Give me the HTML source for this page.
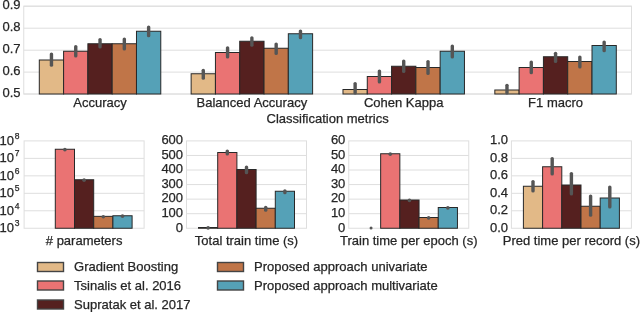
<!DOCTYPE html>
<html><head><meta charset="utf-8"><style>
html,body{margin:0;padding:0;background:#fff;width:640px;height:312px;overflow:hidden}
svg{display:block;filter:blur(0.35px)}
text{font-family:"Liberation Sans", sans-serif;font-size:13px;fill:#262626;stroke:#262626;stroke-width:0.25px}
</style></head><body>
<svg width="640" height="312" viewBox="0 0 640 312">
<rect width="640" height="312" fill="#fff"/>
<line x1="23.75" y1="6.2" x2="631.5" y2="6.2" stroke="#DEDEDE" stroke-width="1"/>
<text x="20.6" y="9.30" text-anchor="end">0.9</text>
<line x1="23.75" y1="28.2" x2="631.5" y2="28.2" stroke="#DEDEDE" stroke-width="1"/>
<text x="20.6" y="31.30" text-anchor="end">0.8</text>
<line x1="23.75" y1="50.2" x2="631.5" y2="50.2" stroke="#DEDEDE" stroke-width="1"/>
<text x="20.6" y="53.30" text-anchor="end">0.7</text>
<line x1="23.75" y1="72.1" x2="631.5" y2="72.1" stroke="#DEDEDE" stroke-width="1"/>
<text x="20.6" y="75.20" text-anchor="end">0.6</text>
<line x1="23.75" y1="94.0" x2="631.5" y2="94.0" stroke="#DEDEDE" stroke-width="1"/>
<text x="20.6" y="97.10" text-anchor="end">0.5</text>
<rect x="23.75" y="6.2" width="607.75" height="87.8" fill="none" stroke="#DEDEDE" stroke-width="1"/>
<rect x="39.30" y="60" width="24.29" height="34.00" fill="#E2B987" stroke="#282828" stroke-width="1"/>
<rect x="63.59" y="51.25" width="24.29" height="42.75" fill="#EA7373" stroke="#282828" stroke-width="1"/>
<rect x="87.89" y="43.75" width="24.29" height="50.25" fill="#55201F" stroke="#282828" stroke-width="1"/>
<rect x="112.18" y="43.75" width="24.29" height="50.25" fill="#C07548" stroke="#282828" stroke-width="1"/>
<rect x="136.48" y="31.25" width="24.29" height="62.75" fill="#55A1B7" stroke="#282828" stroke-width="1"/>
<line x1="51.45" y1="54.10" x2="51.45" y2="65.15" stroke="#555555" stroke-width="3.4" stroke-linecap="round"/>
<line x1="75.74" y1="46.60" x2="75.74" y2="55.90" stroke="#555555" stroke-width="3.4" stroke-linecap="round"/>
<line x1="100.04" y1="39.60" x2="100.04" y2="46.90" stroke="#555555" stroke-width="3.4" stroke-linecap="round"/>
<line x1="124.33" y1="39.10" x2="124.33" y2="48.90" stroke="#555555" stroke-width="3.4" stroke-linecap="round"/>
<line x1="148.63" y1="27.10" x2="148.63" y2="35.65" stroke="#555555" stroke-width="3.4" stroke-linecap="round"/>
<text x="100.04" y="107" text-anchor="middle">Accuracy</text>
<rect x="191.14" y="73.75" width="24.29" height="20.25" fill="#E2B987" stroke="#282828" stroke-width="1"/>
<rect x="215.44" y="52.5" width="24.29" height="41.50" fill="#EA7373" stroke="#282828" stroke-width="1"/>
<rect x="239.73" y="41.25" width="24.29" height="52.75" fill="#55201F" stroke="#282828" stroke-width="1"/>
<rect x="264.03" y="48.25" width="24.29" height="45.75" fill="#C07548" stroke="#282828" stroke-width="1"/>
<rect x="288.32" y="33.75" width="24.29" height="60.25" fill="#55A1B7" stroke="#282828" stroke-width="1"/>
<line x1="203.29" y1="70.35" x2="203.29" y2="78.15" stroke="#555555" stroke-width="3.4" stroke-linecap="round"/>
<line x1="227.58" y1="47.85" x2="227.58" y2="56.90" stroke="#555555" stroke-width="3.4" stroke-linecap="round"/>
<line x1="251.88" y1="37.85" x2="251.88" y2="45.15" stroke="#555555" stroke-width="3.4" stroke-linecap="round"/>
<line x1="276.17" y1="44.10" x2="276.17" y2="53.40" stroke="#555555" stroke-width="3.4" stroke-linecap="round"/>
<line x1="300.47" y1="31.10" x2="300.47" y2="37.65" stroke="#555555" stroke-width="3.4" stroke-linecap="round"/>
<text x="251.88" y="107" text-anchor="middle">Balanced Accuracy</text>
<rect x="342.98" y="89.5" width="24.29" height="4.50" fill="#E2B987" stroke="#282828" stroke-width="1"/>
<rect x="367.28" y="76.5" width="24.29" height="17.50" fill="#EA7373" stroke="#282828" stroke-width="1"/>
<rect x="391.57" y="66.25" width="24.29" height="27.75" fill="#55201F" stroke="#282828" stroke-width="1"/>
<rect x="415.87" y="67.5" width="24.29" height="26.50" fill="#C07548" stroke="#282828" stroke-width="1"/>
<rect x="440.16" y="51.25" width="24.29" height="42.75" fill="#55A1B7" stroke="#282828" stroke-width="1"/>
<line x1="355.13" y1="83.60" x2="355.13" y2="92.90" stroke="#555555" stroke-width="3.4" stroke-linecap="round"/>
<line x1="379.43" y1="71.10" x2="379.43" y2="81.90" stroke="#555555" stroke-width="3.4" stroke-linecap="round"/>
<line x1="403.72" y1="61.10" x2="403.72" y2="71.40" stroke="#555555" stroke-width="3.4" stroke-linecap="round"/>
<line x1="428.02" y1="61.60" x2="428.02" y2="73.40" stroke="#555555" stroke-width="3.4" stroke-linecap="round"/>
<line x1="452.31" y1="46.10" x2="452.31" y2="56.90" stroke="#555555" stroke-width="3.4" stroke-linecap="round"/>
<text x="403.72" y="107" text-anchor="middle">Cohen Kappa</text>
<rect x="494.83" y="90" width="24.29" height="4.00" fill="#E2B987" stroke="#282828" stroke-width="1"/>
<rect x="519.12" y="67.5" width="24.29" height="26.50" fill="#EA7373" stroke="#282828" stroke-width="1"/>
<rect x="543.42" y="56.75" width="24.29" height="37.25" fill="#55201F" stroke="#282828" stroke-width="1"/>
<rect x="567.71" y="61.5" width="24.29" height="32.50" fill="#C07548" stroke="#282828" stroke-width="1"/>
<rect x="592.01" y="45.5" width="24.29" height="48.50" fill="#55A1B7" stroke="#282828" stroke-width="1"/>
<line x1="506.97" y1="85.35" x2="506.97" y2="92.90" stroke="#555555" stroke-width="3.4" stroke-linecap="round"/>
<line x1="531.27" y1="62.10" x2="531.27" y2="72.65" stroke="#555555" stroke-width="3.4" stroke-linecap="round"/>
<line x1="555.56" y1="53.35" x2="555.56" y2="61.40" stroke="#555555" stroke-width="3.4" stroke-linecap="round"/>
<line x1="579.86" y1="57.10" x2="579.86" y2="66.90" stroke="#555555" stroke-width="3.4" stroke-linecap="round"/>
<line x1="604.15" y1="42.10" x2="604.15" y2="50.65" stroke="#555555" stroke-width="3.4" stroke-linecap="round"/>
<text x="555.56" y="107" text-anchor="middle">F1 macro</text>
<text x="327.62" y="123" text-anchor="middle">Classification metrics</text>
<text x="13.90" y="144.90" text-anchor="end">10</text>
<text x="19.50" y="138.70" text-anchor="end" style="font-size:8.5px">8</text>
<line x1="24.1" y1="158.37" x2="144.1" y2="158.37" stroke="#DEDEDE" stroke-width="1"/>
<text x="13.90" y="162.37" text-anchor="end">10</text>
<text x="19.50" y="156.17" text-anchor="end" style="font-size:8.5px">7</text>
<line x1="24.1" y1="175.84" x2="144.1" y2="175.84" stroke="#DEDEDE" stroke-width="1"/>
<text x="13.90" y="179.84" text-anchor="end">10</text>
<text x="19.50" y="173.64" text-anchor="end" style="font-size:8.5px">6</text>
<line x1="24.1" y1="193.31" x2="144.1" y2="193.31" stroke="#DEDEDE" stroke-width="1"/>
<text x="13.90" y="197.31" text-anchor="end">10</text>
<text x="19.50" y="191.11" text-anchor="end" style="font-size:8.5px">5</text>
<line x1="24.1" y1="210.78" x2="144.1" y2="210.78" stroke="#DEDEDE" stroke-width="1"/>
<text x="13.90" y="214.78" text-anchor="end">10</text>
<text x="19.50" y="208.58" text-anchor="end" style="font-size:8.5px">4</text>
<text x="13.90" y="232.25" text-anchor="end">10</text>
<text x="19.50" y="226.05" text-anchor="end" style="font-size:8.5px">3</text>
<rect x="24.1" y="140.9" width="120" height="87.35" fill="none" stroke="#DEDEDE" stroke-width="1"/>
<rect x="55.30" y="149.25" width="19.20" height="79.00" fill="#EA7373" stroke="#282828" stroke-width="1"/>
<rect x="74.50" y="179.75" width="19.20" height="48.50" fill="#55201F" stroke="#282828" stroke-width="1"/>
<rect x="93.70" y="216.35" width="19.20" height="11.90" fill="#C07548" stroke="#282828" stroke-width="1"/>
<rect x="112.90" y="215.75" width="19.20" height="12.50" fill="#55A1B7" stroke="#282828" stroke-width="1"/>
<circle cx="64.90" cy="149.65" r="1.8" fill="#555555"/>
<circle cx="84.10" cy="180.15" r="1.8" fill="#555555"/>
<circle cx="103.30" cy="216.75" r="1.8" fill="#555555"/>
<circle cx="122.50" cy="216.15" r="1.8" fill="#555555"/>
<text x="84.10" y="244.6" text-anchor="middle"># parameters</text>
<text x="183.10" y="144.20" text-anchor="end">600</text>
<line x1="186.5" y1="155.46" x2="306.5" y2="155.46" stroke="#DEDEDE" stroke-width="1"/>
<text x="183.10" y="158.76" text-anchor="end">500</text>
<line x1="186.5" y1="170.02" x2="306.5" y2="170.02" stroke="#DEDEDE" stroke-width="1"/>
<text x="183.10" y="173.32" text-anchor="end">400</text>
<line x1="186.5" y1="184.57" x2="306.5" y2="184.57" stroke="#DEDEDE" stroke-width="1"/>
<text x="183.10" y="187.88" text-anchor="end">300</text>
<line x1="186.5" y1="199.13" x2="306.5" y2="199.13" stroke="#DEDEDE" stroke-width="1"/>
<text x="183.10" y="202.43" text-anchor="end">200</text>
<line x1="186.5" y1="213.69" x2="306.5" y2="213.69" stroke="#DEDEDE" stroke-width="1"/>
<text x="183.10" y="216.99" text-anchor="end">100</text>
<text x="183.10" y="231.55" text-anchor="end">0</text>
<rect x="186.5" y="140.9" width="120" height="87.35" fill="none" stroke="#DEDEDE" stroke-width="1"/>
<rect x="198.50" y="227.5" width="19.20" height="0.75" fill="#E2B987" stroke="#282828" stroke-width="1"/>
<rect x="217.70" y="152.5" width="19.20" height="75.75" fill="#EA7373" stroke="#282828" stroke-width="1"/>
<rect x="236.90" y="169.5" width="19.20" height="58.75" fill="#55201F" stroke="#282828" stroke-width="1"/>
<rect x="256.10" y="208.25" width="19.20" height="20.00" fill="#C07548" stroke="#282828" stroke-width="1"/>
<rect x="275.30" y="191.25" width="19.20" height="37.00" fill="#55A1B7" stroke="#282828" stroke-width="1"/>
<circle cx="208.10" cy="227.90" r="1.8" fill="#555555"/>
<line x1="227.30" y1="151.10" x2="227.30" y2="153.90" stroke="#555555" stroke-width="3.4" stroke-linecap="round"/>
<line x1="246.50" y1="167.10" x2="246.50" y2="172.65" stroke="#555555" stroke-width="3.4" stroke-linecap="round"/>
<line x1="265.70" y1="207.35" x2="265.70" y2="210.15" stroke="#555555" stroke-width="3.4" stroke-linecap="round"/>
<line x1="284.90" y1="190.85" x2="284.90" y2="192.65" stroke="#555555" stroke-width="3.4" stroke-linecap="round"/>
<text x="246.50" y="244.6" text-anchor="middle">Total train time (s)</text>
<text x="345.35" y="144.20" text-anchor="end">60</text>
<line x1="348.75" y1="155.46" x2="468.75" y2="155.46" stroke="#DEDEDE" stroke-width="1"/>
<text x="345.35" y="158.76" text-anchor="end">50</text>
<line x1="348.75" y1="170.02" x2="468.75" y2="170.02" stroke="#DEDEDE" stroke-width="1"/>
<text x="345.35" y="173.32" text-anchor="end">40</text>
<line x1="348.75" y1="184.57" x2="468.75" y2="184.57" stroke="#DEDEDE" stroke-width="1"/>
<text x="345.35" y="187.88" text-anchor="end">30</text>
<line x1="348.75" y1="199.13" x2="468.75" y2="199.13" stroke="#DEDEDE" stroke-width="1"/>
<text x="345.35" y="202.43" text-anchor="end">20</text>
<line x1="348.75" y1="213.69" x2="468.75" y2="213.69" stroke="#DEDEDE" stroke-width="1"/>
<text x="345.35" y="216.99" text-anchor="end">10</text>
<text x="345.35" y="231.55" text-anchor="end">0</text>
<rect x="348.75" y="140.9" width="120" height="87.35" fill="none" stroke="#DEDEDE" stroke-width="1"/>
<rect x="380.65" y="153.75" width="19.20" height="74.50" fill="#EA7373" stroke="#282828" stroke-width="1"/>
<rect x="399.85" y="200" width="19.20" height="28.25" fill="#55201F" stroke="#282828" stroke-width="1"/>
<rect x="419.05" y="217.5" width="19.20" height="10.75" fill="#C07548" stroke="#282828" stroke-width="1"/>
<rect x="438.25" y="207.5" width="19.20" height="20.75" fill="#55A1B7" stroke="#282828" stroke-width="1"/>
<circle cx="390.25" cy="154.15" r="1.8" fill="#555555"/>
<circle cx="409.45" cy="200.40" r="1.8" fill="#555555"/>
<circle cx="428.65" cy="217.90" r="1.8" fill="#555555"/>
<circle cx="447.85" cy="207.90" r="1.8" fill="#555555"/>
<text x="408.75" y="244.6" text-anchor="middle">Train time per epoch (s)</text>
<text x="508.00" y="144.20" text-anchor="end">1.0</text>
<line x1="511.4" y1="158.37" x2="631.4" y2="158.37" stroke="#DEDEDE" stroke-width="1"/>
<text x="508.00" y="161.67" text-anchor="end">0.8</text>
<line x1="511.4" y1="175.84" x2="631.4" y2="175.84" stroke="#DEDEDE" stroke-width="1"/>
<text x="508.00" y="179.14" text-anchor="end">0.6</text>
<line x1="511.4" y1="193.31" x2="631.4" y2="193.31" stroke="#DEDEDE" stroke-width="1"/>
<text x="508.00" y="196.61" text-anchor="end">0.4</text>
<line x1="511.4" y1="210.78" x2="631.4" y2="210.78" stroke="#DEDEDE" stroke-width="1"/>
<text x="508.00" y="214.08" text-anchor="end">0.2</text>
<text x="508.00" y="231.55" text-anchor="end">0.0</text>
<rect x="511.4" y="140.9" width="120" height="87.35" fill="none" stroke="#DEDEDE" stroke-width="1"/>
<rect x="523.40" y="186.25" width="19.20" height="42.00" fill="#E2B987" stroke="#282828" stroke-width="1"/>
<rect x="542.60" y="166.75" width="19.20" height="61.50" fill="#EA7373" stroke="#282828" stroke-width="1"/>
<rect x="561.80" y="185" width="19.20" height="43.25" fill="#55201F" stroke="#282828" stroke-width="1"/>
<rect x="581.00" y="206.25" width="19.20" height="22.00" fill="#C07548" stroke="#282828" stroke-width="1"/>
<rect x="600.20" y="198" width="19.20" height="30.25" fill="#55A1B7" stroke="#282828" stroke-width="1"/>
<line x1="533.00" y1="181.60" x2="533.00" y2="190.90" stroke="#555555" stroke-width="3.4" stroke-linecap="round"/>
<line x1="552.20" y1="158.60" x2="552.20" y2="173.90" stroke="#555555" stroke-width="3.4" stroke-linecap="round"/>
<line x1="571.40" y1="173.60" x2="571.40" y2="193.90" stroke="#555555" stroke-width="3.4" stroke-linecap="round"/>
<line x1="590.60" y1="196.10" x2="590.60" y2="215.15" stroke="#555555" stroke-width="3.4" stroke-linecap="round"/>
<line x1="609.80" y1="187.10" x2="609.80" y2="206.90" stroke="#555555" stroke-width="3.4" stroke-linecap="round"/>
<text x="571.40" y="244.6" text-anchor="middle">Pred time per record (s)</text>
<circle cx="371.05" cy="228.0" r="1.5" fill="#555555"/>
<rect x="37.5" y="262.5" width="26" height="9" fill="#E2B987" stroke="#444" stroke-width="1.4"/>
<text x="74.1" y="271">Gradient Boosting</text>
<rect x="37.5" y="281.0" width="26" height="9" fill="#EA7373" stroke="#444" stroke-width="1.4"/>
<text x="74.1" y="289.5">Tsinalis et al. 2016</text>
<rect x="37.5" y="300.0" width="26" height="9" fill="#55201F" stroke="#444" stroke-width="1.4"/>
<text x="74.1" y="308.5">Supratak et al. 2017</text>
<rect x="217.5" y="262.5" width="26" height="9" fill="#C07548" stroke="#444" stroke-width="1.4"/>
<text x="254.1" y="271">Proposed approach univariate</text>
<rect x="217.5" y="281.0" width="26" height="9" fill="#55A1B7" stroke="#444" stroke-width="1.4"/>
<text x="254.1" y="289.5">Proposed approach multivariate</text>
</svg>
</body></html>
